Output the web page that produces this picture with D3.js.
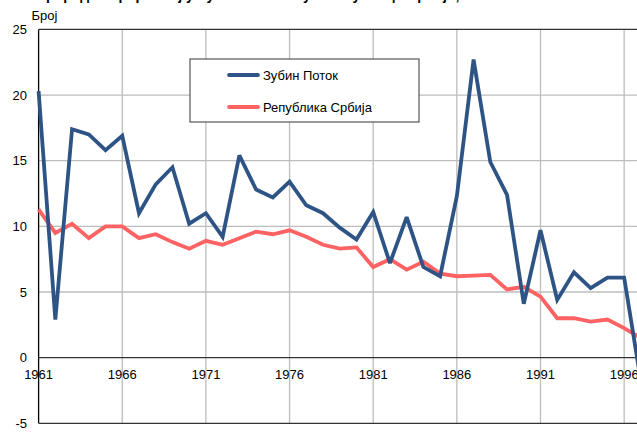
<!DOCTYPE html>
<html>
<head>
<meta charset="utf-8">
<script src="https://cdn.jsdelivr.net/npm/d3@7"></script>
<style>
  html, body { margin: 0; padding: 0; background: #fff; overflow: hidden; }
  svg { display: block; font-family: "Liberation Sans", Arial, sans-serif; }
</style>
</head>
<body>
<div id="chart"></div>
<script>
// DATA
const years = d3.range(1961, 1998);
const zubinPotok = [20.3, 2.9, 17.4, 17.0, 15.8, 16.9, 11.0, 13.2, 14.5, 10.2,
  11.0, 9.2, 15.4, 12.8, 12.2, 13.4, 11.6, 11.0, 9.9, 9.0,
  11.1, 7.2, 10.7, 6.9, 6.2, 12.3, 22.7, 14.9, 12.4, 4.1,
  9.7, 4.4, 6.5, 5.3, 6.1, 6.1, -1.8];
const srbija = [11.3, 9.5, 10.2, 9.1, 10.0, 10.0, 9.1, 9.4, 8.8, 8.3,
  8.9, 8.6, 9.1, 9.6, 9.4, 9.7, 9.2, 8.6, 8.3, 8.4,
  6.9, 7.5, 6.7, 7.3, 6.4, 6.2, 6.25, 6.3, 5.2, 5.4,
  4.65, 3.0, 3.0, 2.75, 2.9, 2.25, 1.5];
const seriesNames = ["Зубин Поток", "Република Србија"];
const seriesColors = ["#2e5486", "#ff6262"];
const yTicks = [-5, 0, 5, 10, 15, 20, 25];
const xTicks = [1961, 1966, 1971, 1976, 1981, 1986, 1991, 1996];
const titleText = "Природни прираштај у Зубином Потоку и Републици Србији, 1961-1997";

// -------------------

const width = 637, height = 441;
const plotLeft = 38.6, plotTop = 29.4, plotBottom = 423.3;

const x = d3.scaleLinear().domain([1961, 1997]).range([plotLeft, plotLeft + 36 * 16.73]);
const y = d3.scaleLinear().domain([-5, 25]).range([plotBottom, plotTop]);

const svg = d3.select("#chart").append("svg")
  .attr("width", width)
  .attr("height", height);

// title, mostly cut off at the top (only descenders show)
svg.append("text")
  .attr("x", 36).attr("y", -0.5)
  .style("font-size", "14px").style("font-weight", "bold")
  .attr("fill", "#000")
  .text(titleText);

// y axis title
svg.append("text")
  .attr("x", 31.5).attr("y", 19.5)
  .style("font-size", "13px")
  .attr("fill", "#000")
  .text("Број");

// gridlines
const grid = svg.append("g");
grid.selectAll("line.h")
  .data(yTicks.filter(d => d !== 0 && d !== -5 && d !== 25))
  .join("line")
  .attr("x1", x.range()[0]).attr("x2", x.range()[1])
  .attr("y1", d => y(d)).attr("y2", d => y(d))
  .attr("stroke", "#bdbdbd").attr("stroke-width", 1.3);
grid.selectAll("line.v")
  .data(xTicks.slice(1))
  .join("line")
  .attr("x1", d => x(d)).attr("x2", d => x(d))
  .attr("y1", plotTop).attr("y2", plotBottom)
  .attr("stroke", "#bdbdbd").attr("stroke-width", 1.3);

// frame
svg.append("line")
  .attr("x1", plotLeft).attr("x2", x.range()[1])
  .attr("y1", plotTop).attr("y2", plotTop)
  .attr("stroke", "#333").attr("stroke-width", 1.3);
svg.append("line")
  .attr("x1", plotLeft).attr("x2", x.range()[1])
  .attr("y1", plotBottom).attr("y2", plotBottom)
  .attr("stroke", "#333").attr("stroke-width", 1.3);
svg.append("line")
  .attr("x1", plotLeft).attr("x2", x.range()[1])
  .attr("y1", y(0)).attr("y2", y(0))
  .attr("stroke", "#333").attr("stroke-width", 1.3);
svg.append("line")
  .attr("x1", plotLeft).attr("x2", plotLeft)
  .attr("y1", plotTop).attr("y2", plotBottom)
  .attr("stroke", "#000").attr("stroke-width", 1.3);

// y tick labels
svg.append("g").selectAll("text")
  .data(yTicks)
  .join("text")
  .attr("x", 27).attr("y", d => y(d))
  .attr("dy", "0.35em")
  .attr("text-anchor", "end")
  .style("font-size", "13px")
  .attr("fill", "#000")
  .text(d => d);

// x tick labels
svg.append("g").selectAll("text")
  .data(xTicks)
  .join("text")
  .attr("x", d => x(d)).attr("y", y(0) + 21)
  .attr("text-anchor", "middle")
  .style("font-size", "13px")
  .attr("fill", "#000")
  .text(d => d);

// lines (red drawn first, blue on top)
const line = d3.line()
  .x((d, i) => x(years[i]))
  .y(d => y(d));

[[srbija, 1], [zubinPotok, 0]].forEach(([vals, i]) => {
  svg.append("path")
    .datum(vals)
    .attr("d", line)
    .attr("fill", "none")
    .attr("stroke", seriesColors[i])
    .attr("stroke-width", 3.8)
    .attr("stroke-linejoin", "miter")
    .attr("stroke-miterlimit", 3);
});

// legend
const legend = svg.append("g");
legend.append("rect")
  .attr("x", 190).attr("y", 59)
  .attr("width", 229).attr("height", 63)
  .attr("fill", "#fff")
  .attr("stroke", "#555").attr("stroke-width", 1.2);
seriesNames.forEach((name, i) => {
  const ly = 75 + i * 32;
  legend.append("line")
    .attr("x1", 229).attr("x2", 258)
    .attr("y1", ly).attr("y2", ly)
    .attr("stroke", seriesColors[i]).attr("stroke-width", 3.8)
    .attr("stroke-linecap", "round");
  legend.append("text")
    .attr("x", 263).attr("y", ly).attr("dy", "0.35em")
    .style("font-size", "13px")
    .attr("fill", "#000")
    .text(name);
});
</script>
</body>
</html>
